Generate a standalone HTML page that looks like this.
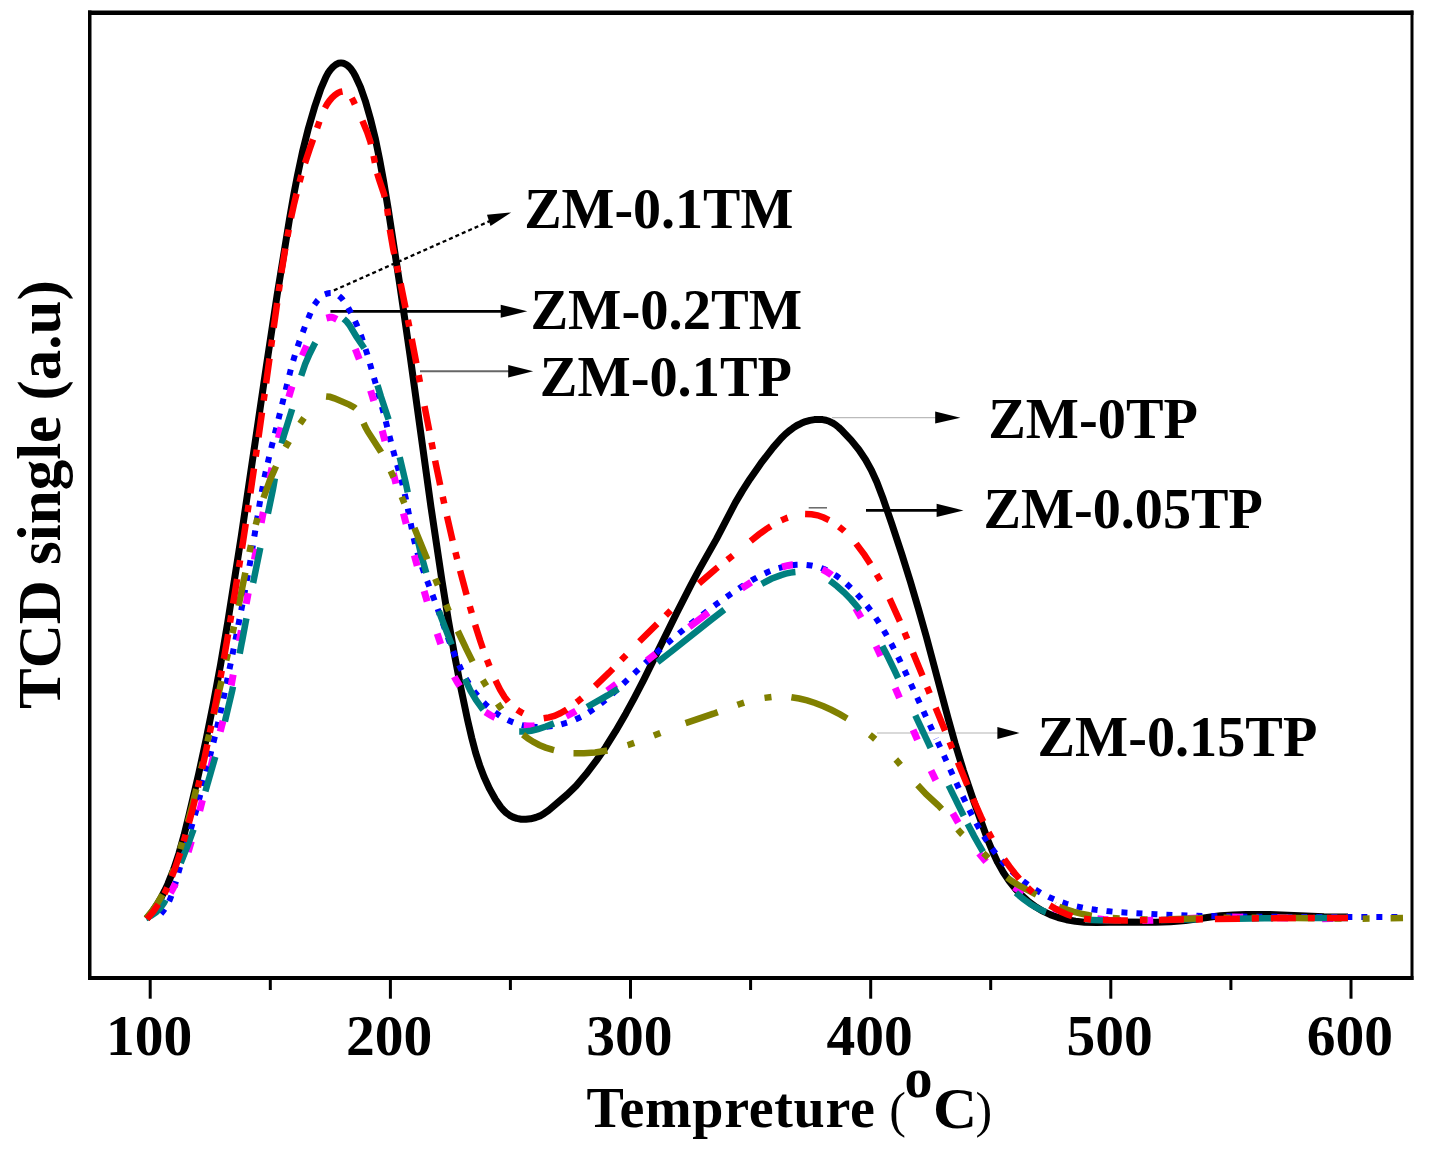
<!DOCTYPE html>
<html><head><meta charset="utf-8"><style>
html,body{margin:0;padding:0;background:#fff;}
svg{display:block;}
text{font-family:"Liberation Serif","Times New Roman",serif;font-weight:bold;fill:#000;}
</style></head><body>
<svg width="1430" height="1150" viewBox="0 0 1430 1150">
<rect x="0" y="0" width="1430" height="1150" fill="#fff"/>
<!-- arrow lines -->
<line x1="333.9" y1="290.4" x2="490" y2="221" stroke="#000" stroke-width="2.3" stroke-dasharray="4 3"/>
<line x1="330.4" y1="311.3" x2="503" y2="311.3" stroke="#000" stroke-width="2.7"/>
<line x1="420" y1="371.3" x2="510" y2="371.3" stroke="#666" stroke-width="2"/>
<line x1="832" y1="417.7" x2="937" y2="417.7" stroke="#bbb" stroke-width="1.3"/>
<line x1="808.7" y1="507.8" x2="827" y2="507.8" stroke="#666" stroke-width="1.5"/>
<line x1="866" y1="510.4" x2="940" y2="510.4" stroke="#000" stroke-width="2.6"/>
<line x1="877" y1="733" x2="1000" y2="733" stroke="#ccc" stroke-width="1.3"/>
<!-- curves -->
<path d="M146.6,918.8 L150.7,913.7 L154.5,908.4 L158.0,903.0 L161.5,896.9 L164.7,890.7 L167.9,883.9 L173.8,869.0 L179.0,853.3 L184.1,835.0 L189.0,815.2 L198.7,773.8 L206.1,739.6 L213.4,703.3 L220.6,664.5 L227.7,622.6 L241.3,536.1 L266.6,364.5 L277.1,295.3 L289.3,220.3 L293.5,196.2 L297.4,176.0 L302.8,150.6 L308.5,127.9 L315.0,105.8 L320.9,88.7 L326.0,76.8 L327.9,73.3 L330.2,70.0 L333.0,66.9 L335.8,64.6 L338.3,63.3 L341.0,62.9 L343.3,63.2 L345.9,64.4 L348.4,66.2 L351.0,68.9 L353.1,71.9 L355.5,76.3 L360.5,87.1 L365.3,100.8 L370.4,118.6 L375.2,138.0 L379.6,159.5 L383.5,180.7 L388.1,208.3 L399.9,285.4 L410.2,356.6 L431.0,507.2 L442.1,581.4 L448.3,619.9 L454.6,655.3 L461.0,688.7 L467.6,720.1 L471.8,738.1 L475.6,752.6 L479.7,765.4 L484.1,777.1 L489.6,788.9 L495.5,799.5 L500.7,807.0 L503.3,810.0 L506.1,812.7 L509.6,815.3 L513.0,817.1 L516.7,818.4 L521.2,819.2 L525.9,819.3 L530.6,818.8 L535.7,817.5 L540.0,815.9 L544.2,813.4 L548.6,810.3 L567.2,794.5 L576.2,785.7 L585.9,774.3 L595.9,761.2 L605.8,746.9 L615.6,731.2 L625.9,713.4 L634.5,697.6 L643.7,679.8 L677.1,612.1 L691.4,584.1 L699.7,568.7 L716.4,539.1 L735.4,502.6 L742.5,490.6 L750.0,478.9 L760.8,463.4 L773.2,447.4 L781.2,438.3 L785.1,434.4 L788.9,431.1 L792.8,428.2 L796.9,425.5 L801.3,423.3 L805.5,421.6 L809.9,420.4 L814.5,419.6 L818.6,419.4 L822.6,419.6 L826.0,420.2 L829.2,421.3 L832.3,422.8 L835.6,424.9 L838.7,427.4 L842.3,430.8 L851.3,440.4 L858.9,449.8 L865.6,459.8 L871.4,470.2 L876.8,482.0 L882.5,496.9 L891.8,523.9 L901.7,553.8 L910.2,581.0 L918.1,607.8 L926.3,636.6 L948.1,718.3 L955.1,743.4 L963.4,770.6 L974.0,801.8 L988.0,840.5 L992.8,852.0 L997.7,862.4 L1003.3,872.4 L1009.2,881.1 L1015.8,889.3 L1022.8,896.5 L1029.2,902.1 L1036.0,907.1 L1042.9,911.2 L1050.2,914.6 L1058.2,917.5 L1066.5,919.7 L1075.5,921.3 L1084.5,922.2 L1096.5,922.5 L1122.4,921.9 L1155.5,922.2 L1170.5,921.8 L1185.4,920.6 L1210.7,917.0 L1220.6,915.8 L1233.1,914.9 L1246.0,914.4 L1270.0,914.5 L1324.0,916.7 L1348.0,917.0" fill="none" stroke="#000000" stroke-width="7" stroke-linejoin="round"/>
<g fill="none" stroke="#0000ff" stroke-width="6">
<path d="M155.1,919.2 L157.9,916.9 L160.7,914.1 L163.3,911.0 L165.5,907.8 L167.8,904.0 L169.7,900.1 L173.3,890.8 L197.3,806.5 L215.2,735.4 L219.4,717.4 L224.0,695.9 L235.5,639.6 L242.8,602.3 L250.1,562.5 L260.2,500.3 L264.9,475.3 L269.7,454.4 L291.3,367.4 L295.2,354.0 L299.2,341.9 L305.1,326.2 L311.5,310.6 L314.3,305.0 L317.5,300.5 L320.9,297.0 L324.9,294.4" stroke-dasharray="6 9" stroke-dashoffset="7.0"/>
<path d="M324.9,294.4 L327.5,293.5 L329.7,293.1 L332.0,293.0 L334.1,293.4 L336.1,294.2 L338.0,295.2 L340.2,297.0 L342.2,299.0 L344.4,301.8 L346.8,305.3 L352.0,314.6 L356.8,324.9 L361.4,336.5 L367.3,354.4 L377.1,388.8 L383.9,414.0 L392.7,448.8 L402.3,483.4 L406.0,499.5 L413.2,535.9 L415.3,545.1 L417.7,553.7 L423.7,571.7 L435.9,604.0 L448.9,640.2 L455.1,656.0 L460.8,668.8 L463.9,675.0 L467.4,681.2 L470.8,686.7 L474.3,691.6 L478.4,696.7 L482.4,701.2 L486.7,705.5 L491.2,709.4 L495.9,713.0 L500.5,716.1 L505.6,719.0 L510.5,721.3 L515.5,723.3 L520.7,724.8 L526.0,726.0 L531.5,726.7" stroke-dasharray="6 9"/>
<path d="M531.5,726.7 L538.5,727.1 L546.1,726.8 L553.1,726.0 L560.6,724.5 L567.9,722.4 L575.0,719.7 L581.7,716.6 L588.5,712.6 L598.3,705.9 L608.6,697.4 L616.7,690.0 L646.9,661.4 L659.9,649.7 L673.1,638.3 L695.1,620.3 L717.0,603.7 L730.1,594.5 L742.6,586.1 L752.0,580.2 L760.3,575.6 L768.3,571.8 L776.2,568.8 L783.8,566.7 L791.6,565.2" stroke-dasharray="6 9"/>
<path d="M791.6,565.2 L796.6,564.8 L801.2,564.7 L806.4,564.9 L811.0,565.4 L815.5,566.3 L819.9,567.5 L824.1,569.1 L828.2,570.9 L832.1,573.1 L836.4,575.8 L840.8,579.0 L845.1,582.5 L854.5,591.4 L863.5,601.3 L870.8,610.7 L878.1,621.3 L885.2,632.8 L892.2,645.5 L898.0,656.7 L904.1,669.4 L936.2,738.7" stroke-dasharray="6 9"/>
<path d="M937.7,741.9 L959.0,788.7 L971.8,814.9 L977.7,825.9 L983.3,835.4 L988.9,844.2 L994.5,851.9 L1001.0,860.1 L1008.2,867.8 L1015.8,875.1 L1023.6,881.5 L1032.1,887.6 L1040.6,892.8 L1049.4,897.3 L1058.1,900.9 L1066.5,903.8 L1075.6,906.2 L1085.3,908.2 L1095.7,909.8 L1106.7,911.1 L1118.7,912.2 L1156.0,914.3 L1197.0,915.8 L1242.9,916.6 L1283.2,916.9 L1405.0,917.0" stroke-dasharray="6 9"/>
</g>
<g fill="none" stroke="#ff00ff" stroke-width="7">
<path d="M152.0,919.2 L157.5,912.5 L162.9,905.2 L167.8,897.7 L172.2,889.9 L176.5,881.5 L180.5,872.4 L184.4,862.7 L188.2,851.9" stroke-dasharray="11 34" stroke-dashoffset="13.0"/>
<path d="M188.2,851.9 L193.5,834.1 L199.7,810.8" stroke-dasharray="11 1000"/>
<path d="M199.7,810.8 L212.2,761.4 L220.2,731.6" stroke-dasharray="11 34"/>
<path d="M220.2,731.6 L226.7,707.0 L231.2,685.5" stroke-dasharray="11 1000"/>
<path d="M231.2,685.5 L246.2,603.9" stroke-dasharray="11 34"/>
<path d="M246.2,603.9 L261.2,522.8" stroke-dasharray="11 34"/>
<path d="M261.2,522.8 L270.6,474.2 L278.4,438.0" stroke-dasharray="11 34"/>
<path d="M278.4,438.0 L283.6,416.6 L288.8,396.9" stroke-dasharray="11 1000"/>
<path d="M288.8,396.9 L295.7,374.0 L299.0,364.6 L302.3,355.7" stroke-dasharray="11 1000"/>
<path d="M302.3,355.7 L309.0,340.4 L312.7,333.1 L315.5,328.2 L317.9,324.9 L320.6,321.9 L323.4,319.8 L326.4,318.2" stroke-dasharray="11 1000"/>
<path d="M326.4,318.2 L330.0,317.3 L331.8,317.3 L333.6,317.7 L336.9,319.4 L340.7,322.8 L344.6,327.7 L348.4,333.8 L351.9,340.6 L355.3,349.0" stroke-dasharray="11 1000"/>
<path d="M355.3,349.0 L364.8,373.5 L370.6,390.5" stroke-dasharray="11 1000"/>
<path d="M370.6,390.5 L375.7,407.3 L382.2,430.5" stroke-dasharray="11 1000"/>
<path d="M382.2,430.5 L393.3,473.1" stroke-dasharray="11 1000"/>
<path d="M393.3,473.1 L403.4,513.3" stroke-dasharray="11 1000"/>
<path d="M403.4,513.3 L414.3,555.3" stroke-dasharray="11 1000"/>
<path d="M414.3,555.3 L424.1,590.9" stroke-dasharray="11 1000"/>
<path d="M424.1,590.9 L430.6,613.1 L437.2,633.7" stroke-dasharray="11 1000"/>
<path d="M437.2,633.7 L442.1,648.1 L446.1,658.9 L450.0,668.2 L454.2,676.6" stroke-dasharray="11 1000"/>
<path d="M454.2,676.6 L457.3,682.2 L460.8,687.6 L464.2,692.4 L468.0,697.0 L471.8,700.9 L476.2,705.0 L480.9,708.8 L485.4,712.1" stroke-dasharray="11 1000"/>
<path d="M485.4,712.1 L490.2,715.0 L494.6,717.4 L499.7,719.7 L504.4,721.6 L509.1,723.1 L514.0,724.3 L518.8,725.2 L523.7,725.8" stroke-dasharray="11 1000"/>
<path d="M523.7,725.8 L529.1,725.9 L534.0,725.7 L538.8,725.2 L544.1,724.1 L549.3,722.8 L555.0,720.9 L560.6,718.7 L566.2,716.2" stroke-dasharray="11 1000"/>
<path d="M566.2,716.2 L574.8,711.7 L584.1,706.2 L595.3,699.0 L607.3,690.7" stroke-dasharray="11 1000"/>
<path d="M607.3,690.7 L624.9,677.8 L647.1,660.5" stroke-dasharray="11 1000"/>
<path d="M647.1,660.5 L689.3,627.0" stroke-dasharray="11 1000"/>
<path d="M689.3,627.0 L717.3,605.7 L729.9,596.5 L741.9,588.2" stroke-dasharray="24 1000"/>
<path d="M741.9,588.2 L754.6,580.0 L764.5,574.3 L773.4,570.0 L782.1,567.0" stroke-dasharray="11 1000"/>
<path d="M782.1,567.0 L787.2,565.7 L792.5,564.8 L797.4,564.5 L802.4,564.5 L807.5,565.0 L812.7,566.1 L817.8,567.6 L822.3,569.4" stroke-dasharray="11 1000"/>
<path d="M822.3,569.4 L826.5,571.5 L830.3,574.1 L833.7,577.1 L837.0,580.7 L840.4,585.0 L844.7,591.1 L855.7,608.3" stroke-dasharray="11 1000"/>
<path d="M855.7,608.3 L865.8,626.0 L876.1,646.0" stroke-dasharray="11 1000"/>
<path d="M876.1,646.0 L885.2,665.4 L895.2,687.8" stroke-dasharray="11 1000"/>
<path d="M895.2,687.8 L913.1,729.8" stroke-dasharray="11 1000"/>
<path d="M913.1,729.8 L922.8,752.3 L931.0,770.5" stroke-dasharray="11 1000"/>
<path d="M931.0,770.5 L941.9,793.0 L952.8,813.2" stroke-dasharray="11 1000"/>
<path d="M952.8,813.2 L959.5,824.9 L965.9,835.0 L972.4,844.5 L979.0,853.3" stroke-dasharray="11 1000"/>
<path d="M979.0,853.3 L987.3,863.2 L995.6,871.8 L1004.5,879.8 L1014.1,887.2" stroke-dasharray="11 1000"/>
<path d="M1014.1,887.2 L1023.7,893.7 L1034.2,899.7 L1045.1,905.0 L1055.8,909.3 L1067.2,912.9 L1078.7,915.8 L1090.8,917.9 L1103.5,919.5 L1121.4,920.5 L1141.9,920.6 L1161.5,919.9 L1207.0,917.6 L1229.1,917.0 L1251.0,917.2 L1312.1,918.7 L1331.2,918.6 L1348.0,918.0" stroke-dasharray="11 34"/>
</g>
<g fill="none" stroke="#008080" stroke-width="6.5">
<path d="M145.8,918.4 L151.1,915.8 L156.1,912.3 L160.2,908.2 L163.9,903.1 L166.5,898.4 L169.2,892.6 L180.7,863.1" stroke-dasharray="36 40" stroke-dashoffset="8.4"/>
<path d="M180.7,863.1 L188.4,843.6 L193.5,829.5 L199.1,812.5 L205.4,791.4" stroke-dasharray="36 1000"/>
<path d="M205.4,791.4 L218.3,746.2 L224.9,721.6" stroke-dasharray="36 1000"/>
<path d="M224.9,721.6 L232.1,691.0 L239.7,653.7" stroke-dasharray="36 1000"/>
<path d="M239.7,653.7 L253.1,583.0" stroke-dasharray="36 1000"/>
<path d="M253.1,583.0 L260.1,548.8 L267.9,513.7" stroke-dasharray="36 1000"/>
<path d="M267.9,513.7 L273.0,489.2 L278.7,456.1 L281.6,443.5" stroke-dasharray="36 1000"/>
<path d="M281.6,443.5 L284.2,434.4 L291.7,410.6 L301.2,375.7" stroke-dasharray="36 1000"/>
<path d="M301.2,375.7 L305.2,364.0 L309.7,353.7 L313.9,345.3 L323.9,326.9 L327.5,321.0 L329.3,318.8 L331.0,317.3 L332.8,316.3 L334.8,315.7 L336.5,315.7 L338.8,316.2 L341.1,317.2 L343.7,318.9" stroke-dasharray="36 1000"/>
<path d="M343.7,318.9 L346.8,321.7 L349.6,325.4 L356.3,336.4 L364.6,348.7 L367.2,353.4 L369.6,358.7 L371.8,364.8 L377.5,385.2" stroke-dasharray="36 1000"/>
<path d="M377.5,385.2 L381.0,396.8 L392.2,430.3 L396.1,443.7 L399.7,457.3" stroke-dasharray="36 1000"/>
<path d="M399.7,457.3 L405.7,482.6 L417.2,538.0" stroke-dasharray="36 1000"/>
<path d="M417.2,538.0 L421.6,556.4 L426.3,573.1 L431.9,591.2 L438.8,611.0" stroke-dasharray="36 1000"/>
<path d="M438.8,611.0 L447.0,632.7 L464.9,678.9" stroke-dasharray="36 1000"/>
<path d="M464.9,678.9 L470.3,690.4 L476.0,700.0 L482.5,708.9 L485.9,712.9 L489.5,716.7 L493.0,719.8 L496.6,722.6 L500.3,725.2 L504.1,727.3 L508.1,729.1 L511.7,730.3 L515.4,731.1 L519.2,731.5" stroke-dasharray="36 1000"/>
<path d="M519.2,731.5 L524.9,731.5 L531.3,730.7 L538.1,729.0 L545.9,726.5 L554.9,723.0 L564.5,718.7 L574.8,713.6 L587.1,707.0" stroke-dasharray="36 1000"/>
<path d="M587.1,707.0 L607.5,695.4 L625.5,684.4 L641.3,673.9 L657.5,662.2" stroke-dasharray="36 1000"/>
<path d="M657.5,662.2 L672.9,650.3 L710.7,620.1 L728.1,606.7 L747.7,592.6 L754.8,587.9 L761.7,583.8" stroke-dasharray="85 1000"/>
<path d="M761.7,583.8 L771.4,578.8 L781.1,575.1 L785.8,573.7 L790.7,572.6 L795.1,572.0 L799.7,571.6 L804.2,571.6 L808.2,571.9 L812.2,572.5 L816.1,573.5 L819.4,574.7 L822.6,576.2 L829.9,580.7" stroke-dasharray="36 1000"/>
<path d="M829.9,580.7 L837.1,586.2 L844.2,592.5 L850.8,599.3 L857.3,606.8 L863.6,615.2 L869.7,624.2 L876.0,634.5 L882.3,645.9" stroke-dasharray="42 1000"/>
<path d="M882.3,645.9 L888.0,657.0 L894.3,670.0 L915.3,715.3" stroke-dasharray="36 1000"/>
<path d="M915.3,715.3 L932.1,751.1 L948.6,785.4" stroke-dasharray="36 1000"/>
<path d="M948.6,785.4 L967.6,823.8" stroke-dasharray="34 1000"/>
<path d="M967.6,823.8 L974.1,836.1 L979.9,846.5 L985.5,855.9 L991.1,864.2 L997.0,872.3 L1003.1,879.7 L1009.3,886.5 L1015.9,892.8" stroke-dasharray="32 1000"/>
<path d="M1015.9,892.8 L1023.2,899.0 L1030.6,904.2 L1037.8,908.4 L1045.4,912.0 L1053.3,914.7 L1061.9,916.9 L1071.2,918.5 L1081.7,919.5 L1099.9,920.3 L1126.1,920.5 L1264.9,918.3 L1308.4,918.0 L1348.0,918.0" stroke-dasharray="36 40"/>
</g>
<g fill="none" stroke="#808000" stroke-width="6.5">
<path d="M146.2,918.3 L152.3,910.8 L157.6,903.0 L162.6,894.4 L167.4,884.6 L171.7,874.5 L175.9,862.8 L180.0,849.9 L185.0,832.5 L191.9,806.9 L199.1,777.7 L229.8,645.4 L238.4,606.9 L248.8,555.3 L253.3,534.3 L258.3,515.0 L263.5,497.8" stroke-dasharray="34 21 7 21 7 21" stroke-dashoffset="5.2"/>
<path d="M263.5,497.8 L269.6,481.0 L276.6,465.0 L284.4,449.4 L293.2,434.2 L298.6,425.7 L304.3,417.4 L310.0,409.7 L315.7,402.7 L318.3,400.0 L320.8,398.0 L323.5,396.8 L326.1,396.4" stroke-dasharray="34 21 7 21 7 1000"/>
<path d="M326.1,396.4 L329.8,396.8 L334.4,398.3 L349.2,404.6 L354.3,407.4 L357.0,409.8 L358.9,412.4 L360.6,415.8 L363.6,423.2" stroke-dasharray="32 1000"/>
<path d="M363.6,423.2 L365.5,427.3 L367.9,431.7 L381.0,452.0 L384.2,457.7 L387.4,463.9 L392.2,474.3 L398.7,489.4 L414.4,527.9" stroke-dasharray="34 21 7 21 7 1000"/>
<path d="M414.4,527.9 L438.6,587.1 L448.4,610.0 L457.8,631.0" stroke-dasharray="34 21 7 21 7 1000"/>
<path d="M457.8,631.0 L466.4,649.2 L474.0,664.4 L481.5,677.9 L489.1,690.6 L499.5,706.4 L508.6,719.2 L515.8,727.8 L519.3,731.4 L523.0,734.7" stroke-dasharray="34 21 7 21 7 1000"/>
<path d="M523.0,734.7 L528.1,738.6 L533.5,742.0 L539.2,745.0 L545.6,747.6 L552.2,749.7 L559.0,751.4 L566.0,752.5 L573.5,753.2" stroke-dasharray="35 1000"/>
<path d="M573.5,753.2 L584.0,753.3 L595.1,752.5 L606.0,750.8 L617.7,748.1 L628.2,745.0 L639.5,741.0 L685.6,723.2" stroke-dasharray="34 21 7 21 7 1000"/>
<path d="M685.6,723.2 L713.5,713.7 L739.2,704.2 L746.4,701.9 L753.2,700.1 L763.5,698.0 L773.0,696.8 L782.4,696.5 L791.4,697.2" stroke-dasharray="34 21 7 21 7 1000"/>
<path d="M791.4,697.2 L799.2,698.5 L807.0,700.4 L815.1,703.0 L823.5,706.3 L831.7,710.0 L840.1,714.4 L848.3,719.2 L856.7,724.7 L863.9,730.0 L871.4,735.9 L878.6,742.2 L885.8,749.1 L897.9,761.8 L917.6,785.0" stroke-dasharray="60 28 7 29 7 1000"/>
<path d="M917.6,785.0 L926.1,794.1 L938.2,805.3 L942.4,809.6 L946.9,815.0 L956.7,828.3 L962.0,834.2 L967.7,839.7 L979.9,850.1 L985.2,854.8 L989.7,859.5 L1000.6,871.5 L1007.1,877.5" stroke-dasharray="34 26 7 28 7 1000"/>
<path d="M1007.1,877.5 L1012.3,881.3 L1018.2,885.0 L1055.0,904.8" stroke-dasharray="34 21 7 21 7 1000"/>
<path d="M1059.1,906.7 L1066.0,909.4 L1073.1,911.7 L1080.8,913.6 L1089.1,915.3 L1098.0,916.6 L1108.0,917.7 L1119.4,918.5 L1131.4,919.1 L1145.9,919.4 L1161.9,919.3 L1217.5,917.9 L1242.0,917.6 L1271.0,917.7 L1353.9,918.7 L1379.9,918.5 L1403.0,918.0" stroke-dasharray="34 21 7 21 7 21"/>
</g>
<g fill="none" stroke="#ff0000" stroke-width="6.5">
<path d="M147.0,919.0 L153.5,911.3 L159.4,902.6 L164.8,893.1 L169.7,882.2 L174.9,868.7 L180.9,850.6 L186.6,831.4 L192.2,810.7 L198.1,786.4 L204.5,758.1 L210.7,728.3 L216.8,697.4 L222.7,665.4 L228.7,630.9 L242.0,548.5" stroke-dasharray="25 12 7 12" stroke-dashoffset="6.4"/>
<path d="M242.0,548.5 L250.4,493.2" stroke-dasharray="25 12 7 1000"/>
<path d="M250.4,493.2 L258.5,437.3" stroke-dasharray="25 12 7 1000"/>
<path d="M258.5,437.3 L266.1,383.3" stroke-dasharray="25 12 7 1000"/>
<path d="M266.1,383.3 L273.7,327.8" stroke-dasharray="25 12 7 1000"/>
<path d="M273.7,327.8 L281.3,273.1" stroke-dasharray="25 12 7 1000"/>
<path d="M281.3,273.1 L286.0,244.0 L291.0,218.0" stroke-dasharray="25 12 7 1000"/>
<path d="M291.0,218.0 L294.2,203.4 L297.6,189.4 L301.2,175.9 L305.0,163.1" stroke-dasharray="25 12 7 1000"/>
<path d="M305.0,163.1 L309.9,148.4 L320.4,118.8 L322.8,112.6 L324.9,108.0" stroke-dasharray="25 12 7 1000"/>
<path d="M324.9,108.0 L327.1,104.1 L329.4,100.8 L331.9,97.8 L334.9,95.1 L337.7,93.1 L340.3,91.9 L342.8,91.4 L345.3,91.8 L346.8,92.5 L348.5,93.8 L350.1,95.5 L351.5,97.6 L353.5,101.3 L362.4,120.8" stroke-dasharray="25 12 7 1000"/>
<path d="M362.4,120.8 L367.2,132.2 L370.4,141.8 L372.2,149.0 L375.5,165.8 L377.2,173.2" stroke-dasharray="25 12 7 1000"/>
<path d="M377.2,173.2 L379.1,179.4 L383.7,193.1 L385.7,200.3 L387.3,209.6 L389.8,229.5" stroke-dasharray="25 12 7 1000"/>
<path d="M389.8,229.5 L393.1,248.7 L400.6,283.5" stroke-dasharray="25 12 7 1000"/>
<path d="M400.6,283.5 L411.7,338.8" stroke-dasharray="25 12 7 1000"/>
<path d="M411.7,338.8 L424.5,406.1" stroke-dasharray="25 12 7 1000"/>
<path d="M424.5,406.1 L435.1,460.6" stroke-dasharray="25 12 7 1000"/>
<path d="M435.1,460.6 L441.1,489.4 L447.0,516.3" stroke-dasharray="25 12 7 1000"/>
<path d="M447.0,516.3 L453.4,544.1 L460.1,570.7" stroke-dasharray="25 12 7 1000"/>
<path d="M460.1,570.7 L467.6,598.7 L475.1,624.7" stroke-dasharray="25 12 7 1000"/>
<path d="M475.1,624.7 L480.2,640.8 L485.1,655.0 L490.2,668.0 L495.5,680.4" stroke-dasharray="25 12 7 1000"/>
<path d="M495.5,680.4 L500.1,689.8 L504.5,697.0 L509.2,702.9 L511.7,705.4 L514.8,708.1 L518.2,710.5 L521.7,712.6 L525.4,714.5 L529.2,716.0 L533.1,717.1 L536.5,717.8 L540.4,718.2 L543.7,718.2" stroke-dasharray="25 12 7 1000"/>
<path d="M543.7,718.2 L548.9,717.4 L554.4,715.9 L560.2,713.3 L565.9,710.1 L571.8,706.1 L578.3,701.0 L586.6,694.1 L595.1,686.2" stroke-dasharray="25 12 7 1000"/>
<path d="M595.1,686.2 L609.0,672.7 L639.4,641.5" stroke-dasharray="25 12 7 1000"/>
<path d="M639.4,641.5 L675.1,606.2 L698.9,583.5" stroke-dasharray="25 12 7 1000"/>
<path d="M698.9,583.5 L715.4,569.2 L736.6,552.6 L750.7,541.0" stroke-dasharray="25 12 7 1000"/>
<path d="M750.7,541.0 L758.9,534.4 L766.2,529.1 L772.9,524.8 L779.4,521.2 L785.7,518.4 L792.3,516.1 L798.7,514.7 L805.1,514.0" stroke-dasharray="25 12 7 1000"/>
<path d="M805.1,514.0 L811.6,514.2 L817.5,515.3 L823.7,517.5 L830.5,520.9 L837.3,525.3 L843.8,530.6 L849.9,536.5 L856.1,543.6" stroke-dasharray="25 12 7 1000"/>
<path d="M856.1,543.6 L864.5,554.9 L873.2,568.3 L881.4,582.6 L889.6,598.6" stroke-dasharray="25 12 7 1000"/>
<path d="M889.6,598.6 L899.9,621.3 L913.0,652.7" stroke-dasharray="25 12 7 1000"/>
<path d="M913.0,652.7 L935.6,707.7" stroke-dasharray="25 12 7 1000"/>
<path d="M935.6,707.7 L957.9,762.2" stroke-dasharray="25 12 7 1000"/>
<path d="M957.9,762.2 L972.0,796.5" stroke-dasharray="25 12 7 1000"/>
<path d="M973.0,798.8 L981.1,817.1 L988.5,832.3 L996.3,846.3 L1004.2,859.1" stroke-dasharray="25 12 7 1000"/>
<path d="M1004.2,859.1 L1009.4,866.4 L1014.9,873.5 L1020.4,880.0 L1025.8,885.8 L1031.6,891.3 L1037.6,896.5 L1043.5,901.1 L1049.8,905.4" stroke-dasharray="25 12 7 1000"/>
<path d="M1049.8,905.4 L1055.8,909.0 L1061.7,912.1 L1067.3,914.5 L1073.0,916.5 L1078.3,917.9 L1083.6,918.8 L1090.1,919.5 L1097.5,919.9 L1114.5,920.4 L1134.5,920.4 L1269.5,918.2 L1310.5,917.9 L1348.0,918.0" stroke-dasharray="25 12 7 12"/>
</g>
<!-- frame -->
<rect x="88" y="10.5" width="1325.5" height="4.5" fill="#000"/>
<rect x="88" y="10.5" width="3.5" height="969.5" fill="#000"/>
<rect x="88" y="976" width="1325.5" height="4" fill="#000"/>
<rect x="1410.5" y="10.5" width="3" height="969.5" fill="#000"/>
<!-- ticks -->
<g fill="#000">
<rect x="148.7" y="979" width="3" height="19.7"/>
<rect x="388.9" y="979" width="3" height="19.7"/>
<rect x="629" y="979" width="3" height="19.7"/>
<rect x="869.2" y="979" width="3" height="19.7"/>
<rect x="1109.3" y="979" width="3" height="19.7"/>
<rect x="1349.5" y="979" width="3" height="19.7"/>
<rect x="268.8" y="979" width="3" height="11"/>
<rect x="508.9" y="979" width="3" height="11"/>
<rect x="749.1" y="979" width="3" height="11"/>
<rect x="989.2" y="979" width="3" height="11"/>
<rect x="1229.4" y="979" width="3" height="11"/>
</g>
<!-- tick labels -->
<g font-size="57.5" text-anchor="middle">
<text x="149" y="1055">100</text>
<text x="389.2" y="1055">200</text>
<text x="629.3" y="1055">300</text>
<text x="869.5" y="1055">400</text>
<text x="1109.6" y="1055">500</text>
<text x="1349.8" y="1055">600</text>
</g>
<!-- axis titles -->
<text x="586.6" y="1127.4" font-size="56" letter-spacing="0.68">Tempreture</text>
<text x="889.3" y="1127" font-size="50" style="font-weight:normal">(</text>
<text x="904.4" y="1097.3" font-size="56">o</text>
<text transform="translate(932.9,1127.5) scale(1.09,1)" x="0" y="0" font-size="56">C</text>
<text x="975.5" y="1127" font-size="50" style="font-weight:normal">)</text>
<text transform="translate(60,709) rotate(-90)" x="0" y="0" font-size="61">TCD single (a.u)</text>
<!-- arrow heads -->
<polygon points="511.2,212.4 487,214.8 490.5,226" fill="#000"/>
<polygon points="500.7,304.8 527.3,311.3 500.7,317.7" fill="#000"/>
<polygon points="508.2,365 533.2,371.3 508.2,377.6" fill="#000"/>
<polygon points="935.2,411.6 960.4,417.7 935.2,423.6" fill="#000"/>
<polygon points="936.6,503.7 963.5,510.4 936.6,517.1" fill="#000"/>
<polygon points="997.4,727 1019.5,733 997.4,739" fill="#000"/>
<!-- labels -->
<text x="524.2" y="228.3" font-size="56">ZM-0.1TM</text>
<text x="530.4" y="328.8" font-size="56.55">ZM-0.2TM</text>
<text x="539.8" y="396.3" font-size="56.4">ZM-0.1TP</text>
<text x="988.3" y="438.3" font-size="56.3">ZM-0TP</text>
<text x="983.5" y="527.8" font-size="56.2">ZM-0.05TP</text>
<text x="1037.6" y="756.4" font-size="56.25">ZM-0.15TP</text>
</svg>
</body></html>
